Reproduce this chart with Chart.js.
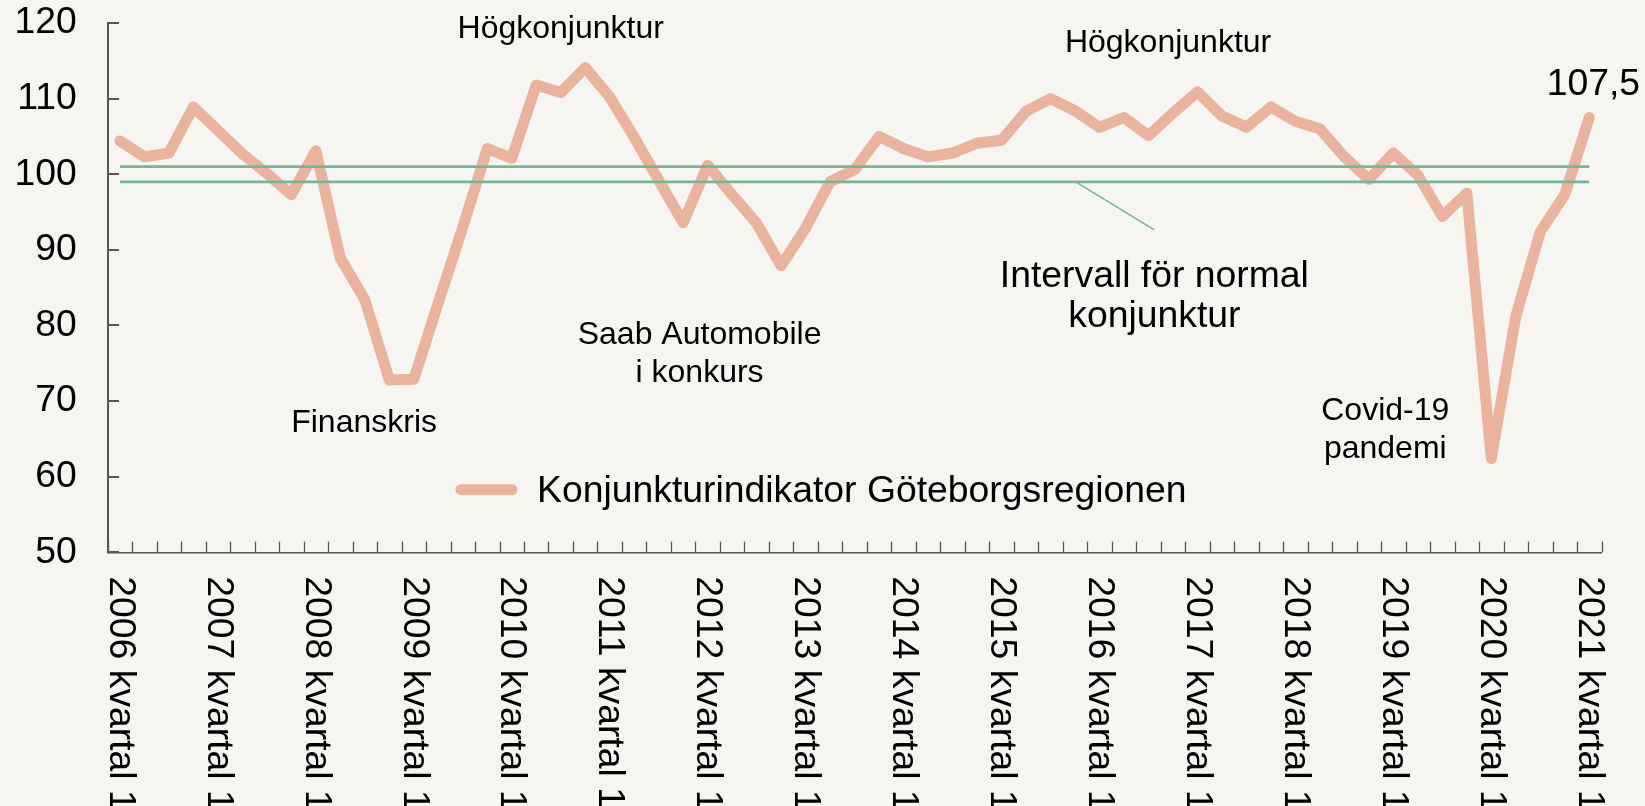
<!DOCTYPE html>
<html>
<head>
<meta charset="utf-8">
<script src="https://cdn.jsdelivr.net/npm/chart.js@4/dist/chart.umd.min.js"></script>
<style>
  html, body { margin: 0; padding: 0; background: #f6f5f1; }
  canvas { display: block; }
</style>
</head>
<body>
<canvas id="c" width="1645" height="806"></canvas>
<script>
// ---------- DATA ----------
const years = [2006, 2007, 2008, 2009, 2010, 2011, 2012, 2013, 2014, 2015, 2016, 2017, 2018, 2019, 2020, 2021];
const quarterLabels = ['kvartal 1', 'kvartal 2', 'kvartal 3', 'kvartal 4'];
const categories = [];
years.forEach(y => quarterLabels.forEach((q, qi) => {
  if (y < 2021 || qi === 0) categories.push(y + ' ' + q);
}));

const seriesName = 'Konjunkturindikator Göteborgsregionen';
const indicatorValues = [
  104.4, 102.3, 102.8, 108.9, 105.8, 102.7, 100.1, 97.3,
  103.1, 88.9, 83.4, 72.8, 72.9, 83.0, 93.0, 103.4,
  102.1, 111.8, 110.8, 114.1, 110.2, 104.9, 99.2, 93.6,
  101.2, 97.3, 93.5, 87.9, 92.9, 99.0, 100.6, 105.0,
  103.4, 102.3, 102.8, 104.1, 104.5, 108.3, 110.0, 108.4,
  106.2, 107.5, 105.1, 108.1, 110.9, 107.7, 106.2, 108.9,
  107.0, 106.0, 102.3, 99.3, 102.8, 99.9, 94.4, 97.5,
  62.4, 81.2, 92.4, 97.3, 107.5
];
const normalUpper = 101;
const normalLower = 99;

const yMin = 50, yMax = 120, yStep = 10;

// annotation texts
const annotationTexts = [
  ['Högkonjunktur'],
  ['Högkonjunktur'],
  ['Finanskris'],
  ['Saab Automobile', 'i konkurs'],
  ['Intervall för normal', 'konjunktur'],
  ['Covid-19', 'pandemi'],
  [indicatorValues[indicatorValues.length - 1].toFixed(1).replace('.', ',')]
];
// anchors in data coordinates: [category index, [baseline value per line]]
const annotationAnchors = [
  [18.0, [118.0]],
  [42.8, [116.1]],
  [9.97, [65.95]],
  [23.67, [77.55, 72.57]],
  [42.24, [85.13, 79.76]],
  [51.67, [67.5, 62.43]],
  [60.17, [110.5]]
];
const annotationSizes = [32, 32, 32, 32, 37.33, 32, 37.33];
// pointer line from the "Intervall" text to the band (data coords)
const pointerFrom = [42.24, 92.63];
const pointerTo = [39.08, 98.89];

// ---------- STYLE ----------
const FONT = '"Liberation Sans", Arial, Helvetica, sans-serif';
const BG = '#f6f5f1';
const SALMON = '#eab39d';
const GREEN = '#7cb496';
const AXIS = '#555555';

const bgPlugin = {
  id: 'bg',
  beforeDraw(chart) {
    const c = chart.ctx;
    c.save();
    c.fillStyle = BG;
    c.fillRect(0, 0, chart.width, chart.height);
    c.restore();
  }
};

const decorPlugin = {
  id: 'decor',
  afterDraw(chart) {
    const c = chart.ctx;
    const xs = chart.scales.x, ys = chart.scales.y;
    const area = chart.chartArea;
    c.save();
    // inward y ticks
    c.strokeStyle = AXIS;
    c.lineWidth = 2;
    ys.ticks.forEach(t => {
      const y = Math.round(ys.getPixelForValue(t.value));
      c.beginPath();
      c.moveTo(area.left, y);
      c.lineTo(area.left + 11.3, y);
      c.stroke();
    });
    // inward x ticks at category boundaries
    c.lineWidth = 1.3;
    for (let i = 0; i <= categories.length; i++) {
      const x = Math.round(xs.getPixelForValue(i - 0.5)) + 0.5;
      c.beginPath();
      c.moveTo(x, area.bottom);
      c.lineTo(x, area.bottom - 10.7);
      c.stroke();
    }
    // rotated x labels (every 4th quarter)
    c.fillStyle = '#000';
    c.font = '37.33px ' + FONT;
    c.textAlign = 'left';
    c.textBaseline = 'middle';
    categories.forEach((lab, i) => {
      if (i % 4 !== 0) return;
      const x = xs.getPixelForValue(i);
      c.save();
      c.translate(x, area.bottom + 24);
      c.rotate(Math.PI / 2);
      c.fillText(lab, 0, 0);
      c.restore();
    });
    // annotations
    c.textAlign = 'center';
    c.textBaseline = 'alphabetic';
    annotationTexts.forEach((lines, k) => {
      const [ix, vals] = annotationAnchors[k];
      c.font = annotationSizes[k] + 'px ' + FONT;
      lines.forEach((line, j) => {
        c.fillText(line, xs.getPixelForValue(ix), ys.getPixelForValue(vals[j]));
      });
    });
    // pointer line
    c.strokeStyle = GREEN;
    c.lineWidth = 1.5;
    c.beginPath();
    c.moveTo(xs.getPixelForValue(pointerFrom[0]), ys.getPixelForValue(pointerFrom[1]));
    c.lineTo(xs.getPixelForValue(pointerTo[0]), ys.getPixelForValue(pointerTo[1]));
    c.stroke();
    // legend
    const ds = chart.data.datasets[2];
    c.strokeStyle = ds.borderColor;
    c.lineWidth = 11;
    c.lineCap = 'round';
    c.beginPath();
    c.moveTo(461, 489.7);
    c.lineTo(512, 489.7);
    c.stroke();
    c.fillStyle = '#000';
    c.font = '37.33px ' + FONT;
    c.textAlign = 'left';
    c.textBaseline = 'alphabetic';
    c.fillText(ds.label, 537, 501.7);
    c.restore();
  }
};

new Chart(document.getElementById('c'), {
  type: 'line',
  data: {
    labels: categories,
    datasets: [
      { label: 'Övre gräns', data: categories.map(() => normalUpper), borderColor: GREEN, borderWidth: 2.7, pointRadius: 0, order: 0 },
      { label: 'Nedre gräns', data: categories.map(() => normalLower), borderColor: GREEN, borderWidth: 2.7, pointRadius: 0, order: 0 },
      { label: seriesName, data: indicatorValues, borderColor: SALMON, borderWidth: 11, pointRadius: 0,
        borderCapStyle: 'round', borderJoinStyle: 'round', tension: 0, order: 1 }
    ]
  },
  options: {
    responsive: false,
    animation: false,
    devicePixelRatio: 1,
    layout: { padding: { top: 23, right: 43.5, left: 0, bottom: 0 } },
    plugins: { legend: { display: false }, tooltip: { enabled: false } },
    scales: {
      x: {
        type: 'category',
        offset: true,
        grid: { display: false, offset: true, drawTicks: false },
        border: { display: true, color: AXIS, width: 1.5 },
        ticks: { display: false, autoSkip: false },
        afterFit(s) { s.height = 253.7; }
      },
      y: {
        min: yMin, max: yMax,
        ticks: { stepSize: yStep, color: '#000', padding: 31, font: { family: FONT, size: 37.33 } },
        grid: { display: false, drawTicks: false },
        border: { display: true, color: AXIS, width: 2 },
        afterFit(s) { s.width = 107.7; s.paddingTop = 0; s.paddingBottom = 0; }
      }
    }
  },
  plugins: [bgPlugin, decorPlugin]
});
</script>
</body>
</html>
